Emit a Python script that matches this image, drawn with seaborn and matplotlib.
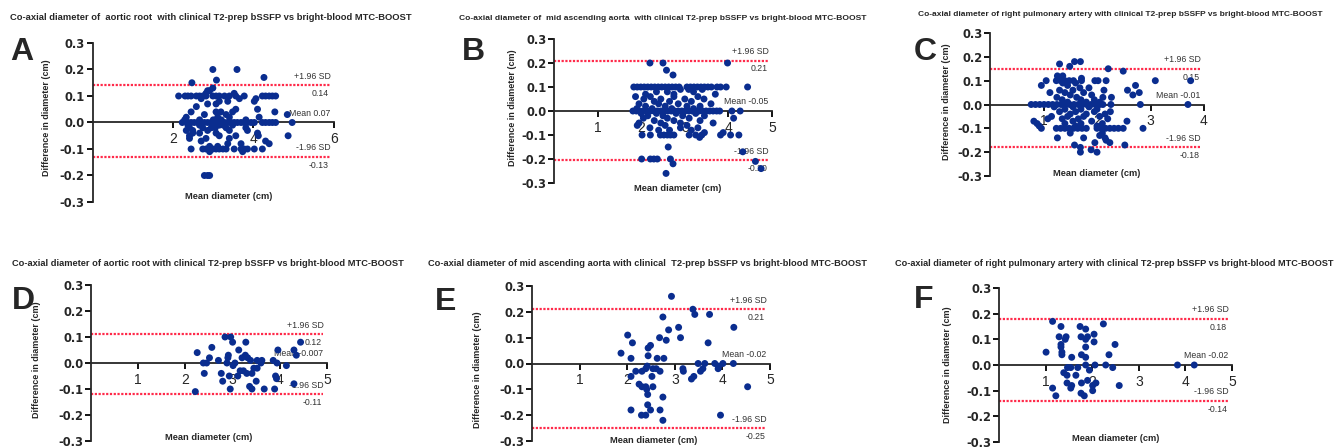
import matplotlib
matplotlib.use("Agg")
import numpy as np
import pandas as pd
import matplotlib.pyplot as plt
import seaborn as sns

# =====================================================
# Data : (difference, [mean diameters at that difference])
# =====================================================

A_ROWS = [
    (0.20, [2.99, 3.59]),
    (0.17, [4.26]),
    (0.16, [3.08]),
    (0.15, [2.47]),
    (0.13, [2.99]),
    (0.12, [2.86, 2.91]),
    (0.11, [2.82, 3.52]),
    (0.10, [2.14, 2.30, 2.37, 2.45, 2.58, 2.66, 2.74, 2.82, 2.99, 3.07, 3.15,
            3.28, 3.40, 3.56, 3.77, 4.22, 4.30, 4.39, 4.47, 4.55]),
    (0.09, [2.70, 3.65, 4.06]),
    (0.08, [3.15, 3.36, 4.02]),
    (0.07, [2.86, 3.07]),
    (0.06, [2.58]),
    (0.05, [3.56, 4.10]),
    (0.04, [2.45, 3.07, 3.19, 3.48, 4.53]),
    (0.03, [2.78, 3.32, 4.84]),
    (0.02, [2.33, 3.11, 3.40, 4.14]),
    (0.01, [2.29, 2.66, 3.00, 3.20, 3.81]),
    (0.00, [2.23, 2.37, 2.45, 2.53, 2.62, 2.70, 2.78, 2.86, 2.95, 3.03, 3.11,
            3.19, 3.28, 3.36, 3.44, 3.52, 3.60, 3.69, 3.77, 3.85, 3.94, 4.02,
            4.22, 4.30, 4.39, 4.47, 4.55, 4.96]),
    (-0.01, [2.37, 2.66, 2.99, 3.15, 3.25, 3.48]),
    (-0.02, [2.41, 2.74, 2.95, 3.05, 3.32, 3.81]),
    (-0.03, [2.33, 2.49, 2.86, 3.40, 3.85]),
    (-0.04, [2.49, 2.66, 3.07, 4.10]),
    (-0.05, [2.41, 3.15, 3.56, 4.12, 4.86]),
    (-0.06, [2.41, 2.82, 3.40]),
    (-0.07, [2.70, 4.30]),
    (-0.08, [3.36, 3.69, 4.39]),
    (-0.09, [2.91, 3.11]),
    (-0.10, [2.45, 2.74, 2.82, 2.91, 2.99, 3.07, 3.15, 3.24, 3.32, 3.52, 3.69,
             3.77, 3.85, 4.02, 4.22]),
    (-0.11, [2.91, 3.73]),
    (-0.20, [2.78, 2.86, 2.91]),
]

B_ROWS = [
    (0.20, [2.20, 2.50, 3.98]),
    (0.17, [2.58]),
    (0.15, [2.73]),
    (0.10, [1.83, 1.91, 1.99, 2.07, 2.15, 2.23, 2.31, 2.39, 2.47, 2.55, 2.63,
            2.71, 2.79, 2.87, 3.05, 3.13, 3.21, 3.29, 3.37, 3.45, 3.53, 3.61,
            3.74, 3.82, 3.95, 4.44]),
    (0.09, [2.90, 3.09, 3.40]),
    (0.08, [2.35, 2.60, 3.20]),
    (0.07, [2.10, 2.75, 3.70]),
    (0.06, [1.87, 2.21, 2.75, 3.30]),
    (0.05, [2.06, 2.45, 3.00, 3.44]),
    (0.04, [2.30, 2.65, 3.15]),
    (0.03, [1.95, 2.40, 2.85, 3.60]),
    (0.02, [2.10, 2.55, 3.05, 3.35]),
    (0.01, [1.90, 2.25, 2.70, 3.20]),
    (0.00, [1.81, 1.89, 1.97, 2.05, 2.13, 2.21, 2.29, 2.37, 2.45, 2.53, 2.61,
            2.69, 2.77, 2.85, 2.93, 3.01, 3.09, 3.17, 3.25, 3.33, 3.41, 3.49,
            3.57, 3.65, 3.73, 3.80, 4.08, 4.27]),
    (-0.01, [2.00, 2.35, 2.80, 3.25]),
    (-0.02, [2.15, 2.50, 2.95, 3.45]),
    (-0.03, [2.05, 2.60, 3.10, 4.12]),
    (-0.04, [2.30, 2.75, 3.35]),
    (-0.05, [1.95, 2.45, 2.90, 3.65]),
    (-0.06, [1.91, 2.55, 3.05]),
    (-0.07, [2.20, 2.90, 3.30]),
    (-0.08, [2.40, 2.65, 3.15]),
    (-0.09, [3.45, 3.88]),
    (-0.10, [2.02, 2.21, 2.44, 2.52, 2.60, 2.67, 2.75, 3.10, 3.25, 3.39, 3.82,
             4.05, 4.24]),
    (-0.11, [3.34]),
    (-0.15, [2.62]),
    (-0.17, [4.33]),
    (-0.20, [2.01, 2.21, 2.29, 2.37, 2.67]),
    (-0.21, [4.62]),
    (-0.22, [2.73]),
    (-0.24, [4.75]),
    (-0.26, [2.57]),
]

C_ROWS = [
    (0.18, [1.58, 1.69]),
    (0.17, [1.30]),
    (0.16, [1.49]),
    (0.15, [2.21]),
    (0.14, [2.49]),
    (0.12, [1.26, 1.36]),
    (0.11, [1.71]),
    (0.10, [1.05, 1.24, 1.32, 1.40, 1.48, 1.56, 1.71, 1.96, 2.02, 2.17, 3.09, 3.75]),
    (0.09, [1.36, 1.60]),
    (0.08, [0.96, 1.45, 2.72]),
    (0.07, [1.68, 1.85]),
    (0.06, [1.30, 1.55, 2.13, 2.57]),
    (0.05, [1.12, 1.40, 1.75, 2.79]),
    (0.04, [1.50, 1.90, 2.67]),
    (0.03, [1.25, 1.62, 2.11, 2.27]),
    (0.02, [1.35, 1.70, 1.95]),
    (0.01, [1.45, 1.80, 2.05]),
    (0.00, [0.77, 0.85, 0.93, 1.01, 1.09, 1.17, 1.25, 1.33, 1.41, 1.49, 1.57,
            1.65, 1.73, 1.81, 1.89, 1.97, 2.05, 2.11, 2.26, 2.81, 3.70]),
    (-0.01, [1.20, 1.55, 1.85]),
    (-0.02, [1.40, 1.70, 2.00]),
    (-0.03, [1.30, 1.60, 1.95, 2.25]),
    (-0.04, [1.50, 1.80, 2.15]),
    (-0.05, [1.15, 1.45, 1.75, 2.05]),
    (-0.06, [1.08, 1.35, 1.65, 2.20]),
    (-0.07, [0.82, 1.55, 1.90, 2.56]),
    (-0.08, [0.88, 1.40, 1.70, 2.10]),
    (-0.09, [0.92, 1.60, 2.00]),
    (-0.10, [0.96, 1.24, 1.32, 1.40, 1.48, 1.56, 1.64, 1.72, 1.80, 2.00, 2.08,
             2.16, 2.24, 2.32, 2.40, 2.49, 2.86]),
    (-0.12, [1.50, 2.10]),
    (-0.13, [2.05]),
    (-0.14, [1.26, 1.75, 2.15]),
    (-0.15, [2.17]),
    (-0.16, [1.96, 2.24]),
    (-0.17, [1.58, 2.52]),
    (-0.18, [1.69]),
    (-0.19, [1.89]),
    (-0.20, [1.69, 2.00]),
]

D_MEAN = [2.21, 2.25, 2.38, 2.40, 2.45, 2.51, 2.56, 2.70, 2.76, 2.79, 2.84,
          2.88, 2.90, 2.91, 2.93, 2.95, 2.96, 3.00, 3.01, 3.05, 3.11, 3.13,
          3.16, 3.20, 3.23, 3.27, 3.28, 3.30, 3.32, 3.36, 3.38, 3.41, 3.41,
          3.45, 3.50, 3.52, 3.52, 3.60, 3.62, 3.67, 3.86, 3.89, 3.91, 3.93,
          3.94, 3.96, 4.14, 4.30, 4.30, 4.35, 4.44]
D_DIFF = [-0.11, 0.04, 0.00, -0.04, 0.00, 0.02, 0.06, 0.01, -0.04, -0.07, 0.10,
          0.00, 0.02, 0.03, -0.05, -0.10, 0.10, 0.08, -0.01, 0.00, -0.05, 0.05,
          -0.03, 0.02, -0.03, 0.03, 0.08, -0.04, 0.02, -0.09, 0.01, -0.10, -0.04,
          -0.02, -0.07, -0.02, 0.01, 0.00, 0.01, -0.10, 0.01, -0.10, -0.05, -0.06,
          0.00, 0.05, -0.01, 0.05, -0.08, 0.03, 0.08]

E_MEAN = [2.93, 3.38, 3.42, 3.73, 2.75, 4.24, 3.08, 2.87, 3.12, 2.68, 2.82,
          2.01, 2.11, 3.70, 2.49, 2.44, 1.87, 2.08, 2.44, 2.63, 2.77, 2.18,
          2.31, 2.39, 2.42, 2.54, 2.61, 2.69, 2.08, 2.52, 3.17, 3.18, 3.35,
          3.40, 3.49, 3.63, 3.84, 4.01, 4.23, 3.54, 3.59, 3.91, 3.92, 2.25,
          2.31, 2.39, 2.54, 2.43, 2.41, 2.75, 2.43, 2.08, 2.49, 2.69, 2.30,
          2.39, 2.75, 3.96, 4.53]
E_DIFF = [0.26, 0.21, 0.19, 0.19, 0.18, 0.14, 0.14, 0.13, 0.10, 0.10, 0.09,
          0.11, 0.08, 0.08, 0.07, 0.06, 0.04, 0.02, 0.03, 0.02, 0.02, -0.03,
          -0.03, -0.02, -0.01, -0.02, -0.02, -0.03, -0.05, -0.05, -0.02, -0.03, -0.06,
          -0.05, 0.00, 0.00, 0.00, 0.00, 0.00, -0.03, -0.02, -0.02, -0.01, -0.08,
          -0.09, -0.09, -0.09, -0.12, -0.10, -0.13, -0.16, -0.18, -0.18, -0.18, -0.20,
          -0.20, -0.22, -0.20, -0.09]

F_MEAN = [1.15, 2.24, 1.33, 1.74, 1.29, 1.44, 1.42, 1.76, 1.86, 1.90, 2.04,
          1.86, 2.04, 1.33, 1.33, 2.49, 1.86, 1.01, 1.35, 1.35, 1.77, 1.86,
          1.56, 2.36, 1.47, 1.54, 1.69, 1.86, 2.06, 2.29, 2.44, 1.94, 1.39,
          1.46, 1.65, 1.46, 1.56, 1.54, 1.77, 1.90, 2.01, 2.08, 2.58, 1.15,
          1.76, 1.83, 2.01, 1.22, 3.83, 4.19]
F_DIFF = [0.17, 0.16, 0.15, 0.15, 0.11, 0.11, 0.10, 0.11, 0.14, 0.11, 0.12,
          0.10, 0.09, 0.08, 0.07, 0.08, 0.07, 0.05, 0.05, 0.04, 0.04, 0.03,
          0.03, 0.04, -0.01, -0.01, -0.01, 0.00, 0.00, 0.00, -0.01, -0.02, -0.03,
          -0.04, -0.04, -0.07, -0.08, -0.09, -0.07, -0.06, -0.08, -0.07, -0.08, -0.09,
          -0.11, -0.12, -0.10, -0.12, 0.00, 0.00]

# limits of agreement (line values) and their printed labels
UPPER_LOA = [0.14, 0.21, 0.15, 0.11, 0.21, 0.18]
LOWER_LOA = [-0.13, -0.205, -0.18, -0.12, -0.25, -0.14]
UPPER_TXT = ["0.14", "0.21", "0.15", "0.12", "0.21", "0.18"]
LOWER_TXT = ["-0.13", "-0.20", "-0.18", "-0.11", "-0.25", "-0.14"]
MEAN_TXT = ["Mean 0.07", "Mean -0.05", "Mean -0.01",
            "Mean -0.007", "Mean -0.02", "Mean -0.02"]

X_MAX = [6, 5, 4, 5, 5, 5]
X_TICKS = [[2, 4, 6], [1, 2, 3, 4, 5], [1, 2, 3, 4],
           [1, 2, 3, 4, 5], [1, 2, 3, 4, 5], [1, 2, 3, 4, 5]]
Y_TICKS = [-0.3, -0.2, -0.1, 0.0, 0.1, 0.2, 0.3]

LETTERS = ["A", "B", "C", "D", "E", "F"]
TITLES = [
    "Co-axial diameter of  aortic root  with clinical T2-prep bSSFP vs bright-blood MTC-BOOST",
    "Co-axial diameter of  mid ascending aorta  with clinical T2-prep bSSFP vs bright-blood MTC-BOOST",
    "Co-axial diameter of right pulmonary artery with clinical T2-prep bSSFP vs bright-blood MTC-BOOST",
    "Co-axial diameter of aortic root with clinical T2-prep bSSFP vs bright-blood MTC-BOOST",
    "Co-axial diameter of mid ascending aorta with clinical  T2-prep bSSFP vs bright-blood MTC-BOOST",
    "Co-axial diameter of right pulmonary artery with clinical T2-prep bSSFP vs bright-blood MTC-BOOST",
]

# =====================================================
# Layout (pixels on a 1337 x 447 canvas)
# =====================================================

W, H = 1337, 447

# axes box: left, top, right, bottom
AX_BOX = [(92.5, 43, 334, 202), (554, 39, 772, 183), (990, 33, 1204, 176),
          (91, 285, 327, 441), (532, 286, 770, 441), (999, 288, 1232, 442)]
# title: left, y center, target width
TITLE_POS = [(10, 18, 407), (459, 18, 408), (918, 14, 407),
             (12, 264, 395), (428, 264, 445), (895, 264, 442)]
LETTER_POS = [(10, 60), (462, 60), (914, 60), (12, 309), (435, 310), (914, 308)]
XLABEL_AT = [(0.565, 0.06), (0.568, -0.01), (0.5, 0.05),
             (0.5, 0.05), (0.51, 0.03), (0.5, 0.05)]
YLABEL_AT = [(-0.17, 0.53), (-0.17, 0.52), (-0.18, 0.52),
             (-0.21, 0.52), (-0.21, 0.46), (-0.2, 0.5)]

BLUE = "#0a2d8f"
RED = "#ff2a4a"
GREY = "#333333"
FONT = ["Liberation Sans", "DejaVu Sans"]

sns.set_style("ticks")
plt.rcParams["font.family"] = FONT


def rows_to_frame(rows):
    recs = [(m, d) for d, means in rows for m in means]
    return pd.DataFrame(recs, columns=["mean", "diff"])


def list_frame(means, diffs):
    return pd.DataFrame({"mean": means, "diff": diffs})


FRAMES = [rows_to_frame(A_ROWS), rows_to_frame(B_ROWS), rows_to_frame(C_ROWS),
          list_frame(D_MEAN, D_DIFF), list_frame(E_MEAN, E_DIFF),
          list_frame(F_MEAN, F_DIFF)]

# =====================================================
# Bland-Altman panel
# =====================================================


def draw_panel(ax, i):

    df = FRAMES[i]

    sns.scatterplot(data=df, x="mean", y="diff", ax=ax, color=BLUE, s=25,
                    linewidth=0, edgecolor="none", zorder=3, legend=False,
                    clip_on=False)

    line_end = 0.985
    for y in (UPPER_LOA[i], LOWER_LOA[i]):
        ax.axhline(y, xmin=0, xmax=line_end, color=RED, lw=1.6,
                   ls=(0, (1, 0.7)), zorder=2)

    kw = dict(xycoords=("axes fraction", "data"), textcoords="offset points",
              ha="right", va="center", fontsize=6.3, color=GREY, zorder=2)
    ax.annotate("+1.96 SD", xy=(line_end, UPPER_LOA[i]), xytext=(0, 6.5), **kw)
    ax.annotate(UPPER_TXT[i], xy=(line_end, UPPER_LOA[i]), xytext=(-1, -6), **kw)
    ax.annotate(MEAN_TXT[i], xy=(line_end, 0), xytext=(0, 6.5), **kw)
    ax.annotate("-1.96 SD", xy=(line_end, LOWER_LOA[i]), xytext=(0, 6.5), **kw)
    ax.annotate(LOWER_TXT[i], xy=(line_end, LOWER_LOA[i]), xytext=(-1, -6), **kw)

    ax.set_xlim(0, X_MAX[i])
    ax.set_ylim(-0.3, 0.3)
    ax.set_xticks(X_TICKS[i])
    ax.set_yticks(Y_TICKS)
    ax.set_yticklabels([f"{v:.1f}" for v in Y_TICKS])

    for lab in ax.get_xticklabels() + ax.get_yticklabels():
        lab.set_family("DejaVu Sans")
        lab.set_fontweight("bold")
        lab.set_fontsize(8.3)

    ax.tick_params(axis="both", direction="out", length=4, width=1.3,
                   color="black", pad=1.5)
    ax.tick_params(axis="x", pad=3)

    ax.spines["top"].set_visible(False)
    ax.spines["right"].set_visible(False)
    ax.spines["bottom"].set_position(("data", 0))
    ax.spines["left"].set_linewidth(1.3)
    ax.spines["bottom"].set_linewidth(1.3)
    ax.spines["left"].set_zorder(2.5)
    ax.spines["bottom"].set_zorder(2.5)
    ax.patch.set_alpha(0)

    ax.set_xlabel("Mean diameter (cm)", fontsize=6.7, fontweight="bold")
    ax.set_ylabel("Difference in diameter (cm)", fontsize=6.5,
                  fontweight="bold")
    ax.xaxis.set_label_coords(*XLABEL_AT[i])
    ax.yaxis.set_label_coords(*YLABEL_AT[i])


# =====================================================
# Figure
# =====================================================

fig = plt.figure(figsize=(W / 100, H / 100), dpi=100)
fig.patch.set_facecolor("white")

for i in range(6):
    l, t, r, b = AX_BOX[i]
    ax = fig.add_axes([l / W, 1 - b / H, (r - l) / W, (b - t) / H])
    draw_panel(ax, i)

    fig.text(LETTER_POS[i][0] / W, 1 - LETTER_POS[i][1] / H, LETTERS[i],
             fontsize=23, fontweight="bold", ha="left", va="baseline")

renderer = fig.canvas.get_renderer()
for i in range(6):
    x, yc, target = TITLE_POS[i]
    t = fig.text(x / W, 1 - yc / H, TITLES[i], fontsize=6, fontweight="bold",
                 ha="left", va="center")
    width = t.get_window_extent(renderer).width
    t.set_fontsize(6 * target / width)

fig.savefig("out.png", dpi=100, facecolor="white")
